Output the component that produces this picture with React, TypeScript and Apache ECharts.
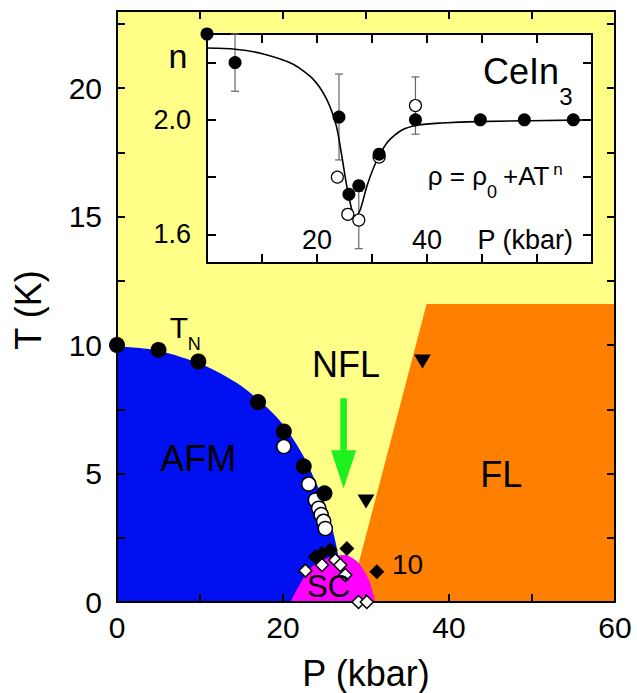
import React, { useEffect, useRef } from "react";
import * as echarts from "echarts";

const FONT = "'Liberation Sans', Arial, Helvetica, sans-serif";

// ---------- Main phase diagram: T (K) vs P (kbar) ----------
const X_LABELS_MAIN = [0, 20, 40, 60];
const Y_LABELS_MAIN = [0, 5, 10, 15, 20];

// Neel temperature T_N (filled circles)
const TN_P = [0, 5.0, 9.8, 17.0, 20.1, 22.5, 25.0];
const TN_T = [10.0, 9.81, 9.36, 7.78, 6.64, 5.28, 4.23];
// open circles
const OC_P = [20.1, 23.1, 23.9, 24.3, 24.6, 24.9, 25.1];
const OC_T = [6.05, 4.59, 3.97, 3.65, 3.4, 3.14, 2.86];
// filled diamonds (Tc)
const FD_P = [23.9, 24.7, 25.7, 27.7, 31.3];
const FD_T = [1.76, 1.89, 2.02, 2.08, 1.18];
// open diamonds
const OD_P = [22.7, 24.7, 26.3, 26.9, 27.5, 29.1, 30.1];
const OD_T = [1.22, 1.44, 1.63, 1.44, 1.05, 0.0, 0.0];
// filled down-triangles
const TRI_P = [36.8, 30.0];
const TRI_T = [9.36, 3.91];

// AFM region boundary
const AFM_P = [0, 5.0, 10.3, 14.4, 17.0, 19.8, 22.2, 24.3, 25.5, 26.3, 26.8, 27.0];
const AFM_T = [9.95, 9.78, 9.23, 8.53, 7.88, 6.99, 5.83, 4.42, 3.4, 2.37, 1.47, 0];
// SC dome
const SC_P = [20.9, 22.1, 23.3, 25.3, 27.3, 28.7, 29.7, 30.5, 31.1];
const SC_T = [0, 0.73, 1.31, 1.7, 1.83, 1.63, 1.25, 0.73, 0];
// FL region upper boundary
const FL_P = [27.9, 37.3, 60];
const FL_T = [0, 11.6, 11.6];
// green arrow: P, top T, head-base T, tip T
const ARROW = [[27.3, 7.93, 5.91, 4.42]];

// ---------- Inset: n vs P ----------
const INSET_FIT_P = [0, 5.1, 9.9, 15.5, 19.2, 21.7, 23.5, 24.5, 25.4, 26.3, 26.9, 27.9, 29.1, 30.7, 32.8, 35.3, 38.4, 42.7, 48.9, 70];
const INSET_FIT_N = [2.251, 2.247, 2.232, 2.196, 2.144, 2.074, 1.98, 1.875, 1.77, 1.688, 1.658, 1.688, 1.77, 1.851, 1.922, 1.963, 1.982, 1.989, 1.994, 2.0];
const INSET_FILLED_P = [0, 5.1, 24.0, 25.8, 27.6, 31.3, 37.9, 49.7, 57.7, 66.6];
const INSET_FILLED_N = [2.3, 2.2, 2.01, 1.74, 1.77, 1.88, 2.0, 2.0, 2.0, 2.0];
const INSET_OPEN_P = [23.7, 25.6, 27.6, 31.3, 37.9];
const INSET_OPEN_N = [1.8, 1.67, 1.65, 1.87, 2.05];
const ERR_P = [5.1, 24.0, 27.6, 37.9];
const ERR_LO = [2.1, 1.86, 1.55, 1.95];
const ERR_HI = [2.3, 2.16, 1.75, 2.15];
const INSET_X_LABELS = [20, 40];
const INSET_Y_TICKS = [1.6, 1.8, 2.0, 2.2];
const INSET_Y_LABELS = [1.6, 2.0];

// ---------- layout ----------
const MAIN = { left: 117, top: 11, width: 498, height: 591 };
const P_MAX = 60;
const T_MAX = 23;
const INSET = { left: 207, top: 34, width: 385, height: 229 };

const mx = (p: number) => MAIN.left + (p / P_MAX) * MAIN.width;
const my = (t: number) => MAIN.top + MAIN.height - (t / T_MAX) * MAIN.height;

const C_YELLOW = "#FFFF88";
const C_BLUE = "#0010F0";
const C_ORANGE = "#FF8000";
const C_MAGENTA = "#FF00FF";
const C_GREEN = "#1EF01E";

const zip = (a: number[], b: number[]) => a.map((v, i) => [v, b[i]]);

export default function App() {
  const ref = useRef<HTMLDivElement>(null);
  useEffect(() => {
    document.body.style.margin = "0";
    if (!ref.current) return;
    const chart = echarts.init(ref.current, undefined, { renderer: "svg" });

    const line2 = { color: "#000", width: 2 };
    const mainAxisBase = {
      type: "value" as const,
      gridIndex: 0,
      axisLine: { show: true, onZero: false, lineStyle: line2 },
      axisTick: { show: true, inside: true, length: 8, lineStyle: line2 },
      splitLine: { show: false },
      z: 3,
    };
    const insetAxisBase = {
      type: "value" as const,
      gridIndex: 1,
      axisLine: { show: true, onZero: false, lineStyle: line2 },
      axisTick: { show: true, inside: true, length: 9, lineStyle: line2 },
      splitLine: { show: false },
      z: 6,
    };

    const text = (
      x: number,
      y: number,
      t: string,
      size: number,
      align: string = "center",
      extra: any = {}
    ) => ({
      type: "text",
      x,
      y,
      z: 20,
      silent: true,
      ...extra,
      style: {
        text: t,
        fontSize: size,
        fontFamily: FONT,
        fill: "#000",
        align,
        verticalAlign: "middle",
      },
    });

    const scatterBase = {
      type: "scatter",
      clip: false,
      silent: true,
    };

    const option: any = {
      animation: false,
      textStyle: { fontFamily: FONT },
      grid: [
        { ...MAIN, show: true, backgroundColor: C_YELLOW, borderWidth: 0, z: 0 },
        { ...INSET, show: true, backgroundColor: "#ffffff", borderWidth: 0, z: 4 },
      ],
      xAxis: [
        {
          ...mainAxisBase,
          min: 0,
          max: P_MAX,
          interval: 10,
          position: "bottom",
          axisLabel: {
            formatter: (v: number) => (X_LABELS_MAIN.includes(v) ? String(v) : ""),
            fontSize: 30,
            color: "#000",
            margin: 10,
            fontFamily: FONT,
          },
        },
        { ...mainAxisBase, min: 0, max: P_MAX, interval: 10, position: "top", axisLabel: { show: false } },
        {
          ...insetAxisBase,
          min: 0,
          max: 70,
          interval: 10,
          position: "bottom",
          axisLabel: {
            inside: true,
            formatter: (v: number) => (INSET_X_LABELS.includes(v) ? String(v) : ""),
            fontSize: 27,
            color: "#000",
            margin: 10,
            fontFamily: FONT,
          },
        },
        { ...insetAxisBase, min: 0, max: 70, interval: 10, position: "top", axisLabel: { show: false } },
      ],
      yAxis: [
        {
          ...mainAxisBase,
          min: 0,
          max: T_MAX,
          interval: 2.5,
          position: "left",
          axisLabel: {
            formatter: (v: number) => (Y_LABELS_MAIN.includes(v) ? String(v) : ""),
            fontSize: 30,
            color: "#000",
            margin: 15,
            fontFamily: FONT,
          },
        },
        { ...mainAxisBase, min: 0, max: T_MAX, interval: 2.5, position: "right", axisLabel: { show: false } },
        {
          ...insetAxisBase,
          min: 1.5,
          max: 2.3,
          position: "left",
          axisTick: { ...insetAxisBase.axisTick, customValues: INSET_Y_TICKS },
          axisLabel: {
            customValues: INSET_Y_LABELS,
            formatter: (v: number) => v.toFixed(1),
            fontSize: 27,
            color: "#000",
            margin: 16,
            fontFamily: FONT,
          },
        },
        {
          ...insetAxisBase,
          min: 1.5,
          max: 2.3,
          position: "right",
          axisTick: { ...insetAxisBase.axisTick, customValues: INSET_Y_TICKS },
          axisLabel: { show: false },
        },
      ],
      series: [
        {
          type: "line",
          xAxisIndex: 0,
          yAxisIndex: 0,
          data: zip(FL_P, FL_T),
          symbol: "none",
          lineStyle: { width: 0, opacity: 0 },
          areaStyle: { color: C_ORANGE, opacity: 1 },
          silent: true,
          z: 1,
        },
        {
          type: "line",
          xAxisIndex: 0,
          yAxisIndex: 0,
          data: zip(AFM_P, AFM_T),
          smooth: 0.3,
          symbol: "none",
          lineStyle: { width: 0, opacity: 0 },
          areaStyle: { color: C_BLUE, opacity: 1 },
          silent: true,
          z: 1,
        },
        {
          type: "line",
          xAxisIndex: 0,
          yAxisIndex: 0,
          data: zip(SC_P, SC_T),
          smooth: 0.4,
          symbol: "none",
          lineStyle: { width: 0, opacity: 0 },
          areaStyle: { color: C_MAGENTA, opacity: 1 },
          silent: true,
          z: 1,
        },
        {
          type: "custom",
          xAxisIndex: 0,
          yAxisIndex: 0,
          data: ARROW,
          silent: true,
          z: 2,
          clip: false,
          renderItem: (params: any, api: any) => {
            const p = api.value(0);
            const top = api.coord([p, api.value(1)]);
            const base = api.coord([p, api.value(2)]);
            const tip = api.coord([p, api.value(3)]);
            const hw = 12.5;
            return {
              type: "group",
              children: [
                {
                  type: "line",
                  shape: { x1: top[0], y1: top[1], x2: base[0], y2: base[1] + 2 },
                  style: { stroke: C_GREEN, lineWidth: 6.5 },
                },
                {
                  type: "polygon",
                  shape: { points: [[base[0] - hw, base[1]], [base[0] + hw, base[1]], [tip[0], tip[1]]] },
                  style: { fill: C_GREEN },
                },
              ],
            };
          },
        },
        {
          ...scatterBase,
          xAxisIndex: 0,
          yAxisIndex: 0,
          data: zip(OC_P, OC_T),
          symbol: "circle",
          symbolSize: 14,
          itemStyle: { color: "#fff", borderColor: "#000", borderWidth: 1.5, opacity: 1 },
          z: 5,
        },
        {
          ...scatterBase,
          xAxisIndex: 0,
          yAxisIndex: 0,
          data: zip(FD_P, FD_T),
          symbol: "diamond",
          symbolSize: 15,
          itemStyle: { color: "#000", opacity: 1 },
          z: 5,
        },
        {
          ...scatterBase,
          xAxisIndex: 0,
          yAxisIndex: 0,
          data: zip(OD_P, OD_T),
          symbol: "diamond",
          symbolSize: 13,
          itemStyle: { color: "#fff", borderColor: "#000", borderWidth: 1.5, opacity: 1 },
          z: 6,
        },
        {
          ...scatterBase,
          xAxisIndex: 0,
          yAxisIndex: 0,
          data: zip(TN_P, TN_T),
          symbol: "circle",
          symbolSize: 16,
          itemStyle: { color: "#000", opacity: 1 },
          z: 5,
        },
        {
          ...scatterBase,
          xAxisIndex: 0,
          yAxisIndex: 0,
          data: zip(TRI_P, TRI_T),
          symbol: "triangle",
          symbolRotate: 180,
          symbolSize: [17, 14],
          itemStyle: { color: "#000", opacity: 1 },
          z: 5,
        },
        // ---- inset ----
        {
          type: "custom",
          xAxisIndex: 2,
          yAxisIndex: 2,
          data: ERR_P.map((p, i) => [p, ERR_LO[i], ERR_HI[i]]),
          encode: { x: 0, y: [1, 2] },
          silent: true,
          clip: false,
          z: 7,
          renderItem: (params: any, api: any) => {
            const p = api.value(0);
            const lo = api.coord([p, api.value(1)]);
            const hi = api.coord([p, api.value(2)]);
            const cap = 4;
            const st = { stroke: "#666", lineWidth: 1.2 };
            return {
              type: "group",
              children: [
                { type: "line", shape: { x1: hi[0], y1: hi[1], x2: lo[0], y2: lo[1] }, style: st },
                { type: "line", shape: { x1: hi[0] - cap, y1: hi[1], x2: hi[0] + cap, y2: hi[1] }, style: st },
                { type: "line", shape: { x1: lo[0] - cap, y1: lo[1], x2: lo[0] + cap, y2: lo[1] }, style: st },
              ],
            };
          },
        },
        {
          type: "line",
          xAxisIndex: 2,
          yAxisIndex: 2,
          data: zip(INSET_FIT_P, INSET_FIT_N),
          smooth: 0.25,
          symbol: "none",
          lineStyle: { color: "#000", width: 1.6 },
          silent: true,
          z: 8,
        },
        {
          ...scatterBase,
          xAxisIndex: 2,
          yAxisIndex: 2,
          data: zip(INSET_OPEN_P, INSET_OPEN_N),
          symbol: "circle",
          symbolSize: 12,
          itemStyle: { color: "#fff", borderColor: "#000", borderWidth: 1.2, opacity: 1 },
          z: 9,
        },
        {
          ...scatterBase,
          xAxisIndex: 2,
          yAxisIndex: 2,
          data: zip(INSET_FILLED_P, INSET_FILLED_N),
          symbol: "circle",
          symbolSize: 13,
          itemStyle: { color: "#000", opacity: 1 },
          z: 10,
        },
      ],
      graphic: [
        // main annotations
        text(mx(7.47), my(10.7), "T", 30),
        text(mx(9.3), my(10.05), "N", 18),
        text(mx(27.6), my(9.23), "NFL", 36),
        text(mx(9.8), my(5.58), "AFM", 36),
        text(mx(46.3), my(4.97), "FL", 36),
        text(mx(25.5), my(0.62), "SC", 31),
        text(mx(35.0), my(1.45), "10", 28),
        // axis names
        text(28, 310, "T (K)", 36, "center", { rotation: Math.PI / 2 }),
        text(366, 673, "P (kbar)", 36),
        // inset annotations
        text(178, 56, "n", 34),
        text(483, 71, "CeIn", 36, "left"),
        text(566, 96, "3", 24),
        text(487, 176, "ρ = ρ", 26, "right"),
        text(492, 192, "0", 18),
        text(503, 176, "+AT", 26, "left"),
        text(558, 169, "n", 17),
        text(573, 240, "P (kbar)", 27, "right"),
      ],
    };

    chart.setOption(option);
    return () => chart.dispose();
  }, []);

  return <div ref={ref} style={{ width: 637, height: 693 }} />;
}
